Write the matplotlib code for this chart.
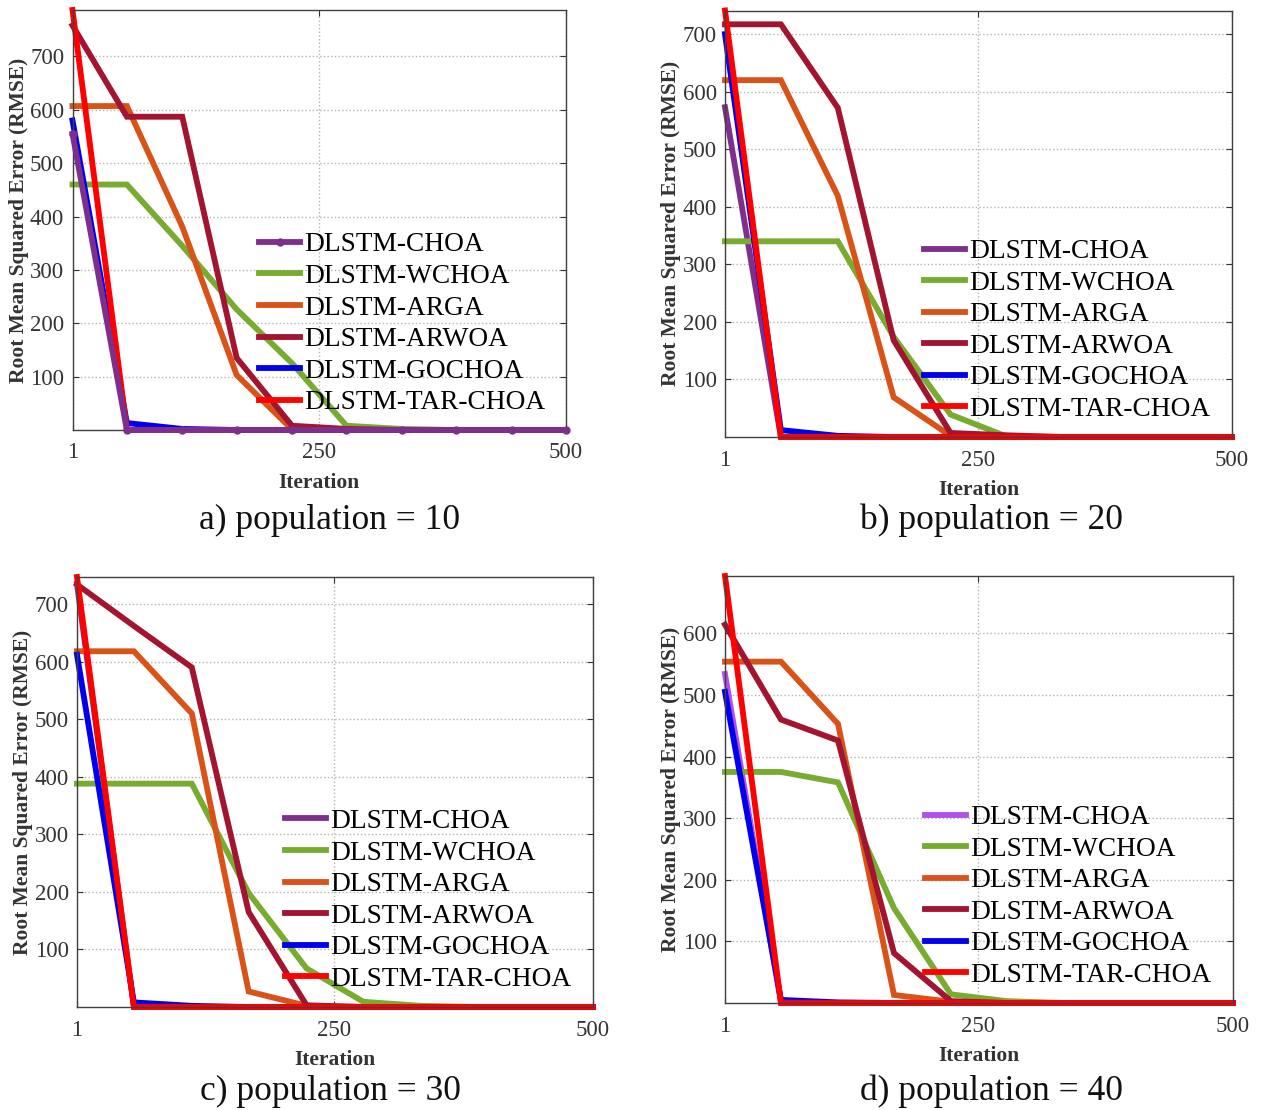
import numpy as np
import matplotlib
matplotlib.use('Agg')
import matplotlib.pyplot as plt

# ── Style ────────────────────────────────────────────────────────────────────
plt.rcParams.update({
    'font.family': 'Liberation Serif',
    'axes.linewidth': 1.0,
    'figure.facecolor': 'white',
})

# ── Data ────────────────────────────────────────────────────────────────────
iterations = [1, 56, 112, 167, 223, 278, 334, 389, 445, 500]

methods = ['DLSTM-CHOA', 'DLSTM-WCHOA', 'DLSTM-ARGA',
           'DLSTM-ARWOA', 'DLSTM-GOCHOA', 'DLSTM-TAR-CHOA']

# population = 10
pop10_choa   = [555, 0, 0, 0, 0, 0, 0, 0, 0, 0]
pop10_wchoa  = [460, 460, 345, 226, 125, 8, 2, 0, 0, 0]
pop10_arga   = [607, 607, 381, 103, 1, 0, 0, 0, 0, 0]
pop10_arwoa  = [758, 587, 587, 135, 8, 2, 0, 0, 0, 0]
pop10_gochoa = [580, 13, 2, 0, 0, 0, 0, 0, 0, 0]
pop10_tar    = [787, 0, 0, 0, 0, 0, 0, 0, 0, 0]

# population = 20
pop20_choa   = [573, 0, 0, 0, 0, 0, 0, 0, 0, 0]
pop20_wchoa  = [340, 340, 340, 174, 39, 1, 0, 0, 0, 0]
pop20_arga   = [620, 620, 419, 69, 2, 0, 0, 0, 0, 0]
pop20_arwoa  = [717, 717, 572, 168, 7, 3, 0, 0, 0, 0]
pop20_gochoa = [700, 12, 2, 0, 0, 0, 0, 0, 0, 0]
pop20_tar    = [741, 0, 0, 0, 0, 0, 0, 0, 0, 0]

# population = 30
pop30_choa   = [735, 0, 0, 0, 0, 0, 0, 0, 0, 0]
pop30_wchoa  = [388, 388, 388, 198, 67, 9, 2, 0, 0, 0]
pop30_arga   = [618, 618, 510, 27, 2, 0, 0, 0, 0, 0]
pop30_arwoa  = [734, 662, 590, 165, 3, 0, 0, 0, 0, 0]
pop30_gochoa = [612, 8, 2, 0, 0, 0, 0, 0, 0, 0]
pop30_tar    = [747, 0, 0, 0, 0, 0, 0, 0, 0, 0]

# population = 40
pop40_choa   = [534, 0, 0, 0, 0, 0, 0, 0, 0, 0]
pop40_wchoa  = [375, 375, 358, 154, 14, 3, 0, 0, 0, 0]
pop40_arga   = [554, 554, 453, 13, 2, 0, 0, 0, 0, 0]
pop40_arwoa  = [614, 460, 426, 81, 3, 0, 0, 0, 0, 0]
pop40_gochoa = [505, 5, 1, 0, 0, 0, 0, 0, 0, 0]
pop40_tar    = [693, 0, 0, 0, 0, 0, 0, 0, 0, 0]

captions = ['a) population = 10', 'b) population = 20',
            'c) population = 30', 'd) population = 40']

panels = [
    [pop10_choa, pop10_wchoa, pop10_arga, pop10_arwoa, pop10_gochoa, pop10_tar],
    [pop20_choa, pop20_wchoa, pop20_arga, pop20_arwoa, pop20_gochoa, pop20_tar],
    [pop30_choa, pop30_wchoa, pop30_arga, pop30_arwoa, pop30_gochoa, pop30_tar],
    [pop40_choa, pop40_wchoa, pop40_arga, pop40_arwoa, pop40_gochoa, pop40_tar],
]

xticks = [1, 250, 500]
yticks_all = [[100, 200, 300, 400, 500, 600, 700]] * 3 + [[100, 200, 300, 400, 500, 600]]

colors = ['#7E2F8E', '#77AC30', '#D95319', '#A2142F', '#0000EE', '#FF0000']
choa_colors = ['#7E2F8E', '#7E2F8E', '#7E2F8E', '#B150E6']

# ── Layout (pixels of the 1263x1110 canvas) ─────────────────────────────────
W, H = 1263, 1110
boxes = [(72.5, 10, 566, 430), (725, 10.5, 1232, 437),
         (77, 577, 593, 1007), (725, 576, 1233, 1003)]
caption_xy = [(330, 520), (991, 520), (330, 1091), (992, 1091)]

fig = plt.figure(figsize=(W / 100, H / 100), dpi=100)

for i, (series, cap) in enumerate(zip(panels, captions)):
    x0, y0, x1, y1 = boxes[i]
    ax = fig.add_axes([x0 / W, 1 - y1 / H, (x1 - x0) / W, (y1 - y0) / H])

    for j, (vals, name) in enumerate(zip(series, methods)):
        c = choa_colors[i] if j == 0 else colors[j]
        kw = dict(color=c, lw=4.2, label=name, clip_on=False,
                  solid_joinstyle='miter')
        if i == 0 and j == 0:
            kw.update(marker='o', ms=5, zorder=6)
        else:
            kw.update(zorder=2 + j * 0.1)
        ax.plot(iterations, vals, **kw)

    ymax = max(max(s) for s in series)
    ax.set_xlim(1, 500)
    ax.set_ylim(0, ymax)
    ax.set_xticks(xticks)
    ax.set_yticks(yticks_all[i])
    ax.grid(True, ls=':', color='#b4b4b4', lw=1.0)
    ax.set_axisbelow(True)
    ax.tick_params(direction='in', top=True, right=True, length=4,
                   labelsize=16.5, colors='#333333', pad=6)
    ax.tick_params(axis='x', pad=9)
    for sp in ax.spines.values():
        sp.set_color('#404040')

    ax.set_xlabel('Iteration', fontsize=15.5, fontweight='bold',
                  color='#333333', labelpad=7)
    ax.set_ylabel('Root Mean Squared Error (RMSE)', fontsize=15.5,
                  fontweight='bold', color='#333333', labelpad=1)

    ax.legend(loc='lower right', bbox_to_anchor=(0.958, 0.035),
              frameon=False, fontsize=19.7, handlelength=1.5,
              handletextpad=0.15, labelspacing=0.235, borderpad=0,
              borderaxespad=0)

    cx, cy = caption_xy[i]
    fig.text(cx / W, 1 - cy / H, cap,
             fontsize=25.5, ha='center', va='center', color='#111111')

fig.savefig('out.png', dpi=100)
